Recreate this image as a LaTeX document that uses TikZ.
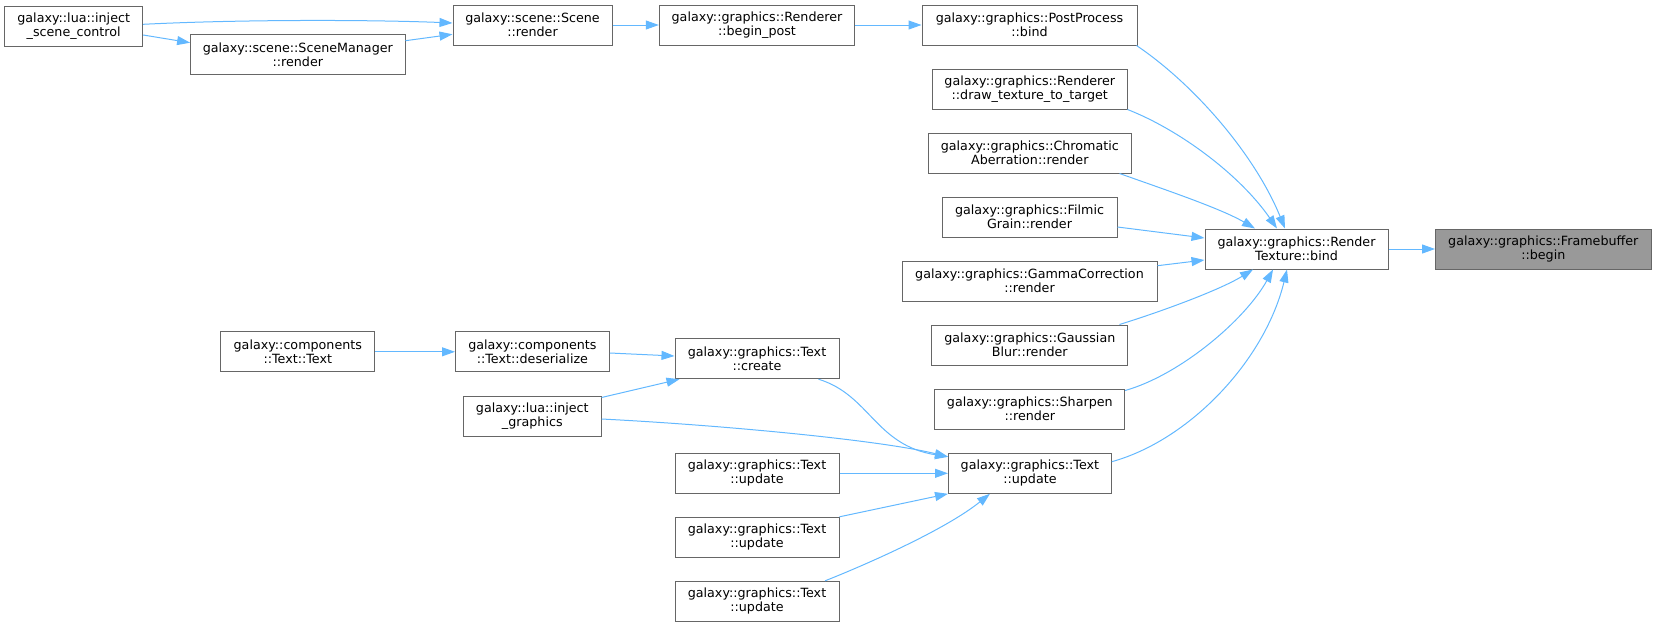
\documentclass[tikz,border=0pt]{standalone}
\usepackage{fontspec}
\setmainfont{DejaVu Sans}
\usetikzlibrary{arrows.meta}
\definecolor{edgeblue}{HTML}{63B8FF}
\definecolor{boxgray}{HTML}{666666}
\definecolor{fillgray}{HTML}{999999}
\begin{document}
\begin{tikzpicture}[x=1pt,y=-1pt,
  fn/.style={draw=boxgray, line width=1pt, fill=white, align=center, inner sep=0pt,
    minimum height=40pt, font=\fontsize{12.7}{14}\selectfont},
  cur/.style={fn, fill=fillgray},
  call/.style={draw=edgeblue, line width=1pt, -{Triangle[length=13pt,width=9pt]}}]
\useasboundingbox (0,0) rectangle (1656,627);

% nodes
\node[fn, minimum width=138pt]   (isc) at (73.7,26.3)  {galaxy::lua::inject\\\_scene\_control};
\node[fn, minimum width=214.4pt] (smr) at (297.8,54.5) {galaxy::scene::SceneManager\\::render};
\node[fn, minimum width=159pt]   (scn) at (532.5,25)   {galaxy::scene::Scene\\::render};
\node[fn, minimum width=195.4pt] (bp)  at (757,25)     {galaxy::graphics::Renderer\\::begin\_post};
\node[fn, minimum width=215pt]   (pp)  at (1029.5,25)  {galaxy::graphics::PostProcess\\::bind};
\node[fn, minimum width=194.4pt] (dt)  at (1029.8,89)  {galaxy::graphics::Renderer\\::draw\_texture\_to\_target};
\node[fn, minimum width=202.5pt] (ca)  at (1029.8,153) {galaxy::graphics::Chromatic\\Aberration::render};
\node[fn, minimum width=175pt]   (fg)  at (1029.5,217) {galaxy::graphics::Filmic\\Grain::render};
\node[fn, minimum width=255pt]   (gc)  at (1029.5,281) {galaxy::graphics::GammaCorrection\\::render};
\node[fn, minimum width=196.3pt] (gb)  at (1029.8,345) {galaxy::graphics::Gaussian\\Blur::render};
\node[fn, minimum width=189.7pt] (sh)  at (1029.8,409) {galaxy::graphics::Sharpen\\::render};
\node[fn, minimum width=162.8pt] (upm) at (1029.9,473.3) {galaxy::graphics::Text\\::update};
\node[fn, minimum width=183pt]   (rt)  at (1296.5,249) {galaxy::graphics::Render\\Texture::bind};
\node[cur, minimum width=215.5pt] (fb) at (1543.3,249) {galaxy::graphics::Framebuffer\\::begin};
\node[fn, minimum width=154.3pt] (ttx) at (297.8,351.8) {galaxy::components\\::Text::Text};
\node[fn, minimum width=153.8pt] (des) at (532.4,351.8) {galaxy::components\\::Text::deserialize};
\node[fn, minimum width=137.5pt] (igr) at (532.3,416)   {galaxy::lua::inject\\\_graphics};
\node[fn, minimum width=164pt]   (cre) at (757,358.7)   {galaxy::graphics::Text\\::create};
\node[fn, minimum width=164pt]   (up1) at (757,473.3)   {galaxy::graphics::Text\\::update};
\node[fn, minimum width=164pt]   (up2) at (757,537.3)   {galaxy::graphics::Text\\::update};
\node[fn, minimum width=164pt]   (up3) at (757,601.3)   {galaxy::graphics::Text\\::update};

% edges
\draw[call] ([yshift=2pt]isc.east) .. controls (250,19) and (380,20) .. ([yshift=2pt]scn.west);
\draw[call] ([yshift=-8.7pt]isc.east) -- ([yshift=11.8pt]smr.west);
\draw[call] ([yshift=13.8pt]smr.east) -- ([yshift=-9.3pt]scn.west);
\draw[call] (scn) -- (bp);
\draw[call] (bp) -- (pp);
\draw[call] ([xshift=-1pt]pp.south east) .. controls (1195,85) and (1255,155) .. ([xshift=-11.5pt]rt.north);
\draw[call] (dt.south east) .. controls (1180,130) and (1240,175) .. ([xshift=-19.5pt]rt.north);
\draw[call] ([xshift=-12pt]ca.south east) .. controls (1160,188) and (1220,208) .. ([xshift=-41.5pt]rt.north);
\draw[call] ([yshift=-10pt]fg.east) -- ([yshift=11pt]rt.west);
\draw[call] ([yshift=15.3pt]gc.east) -- ([yshift=-11pt]rt.west);
\draw[call] ([xshift=-9pt]gb.north east) .. controls (1160,312) and (1220,290) .. ([xshift=-43.5pt]rt.south);
\draw[call] ([yshift=-2pt]sh.north east) .. controls (1180,375) and (1245,320) .. ([xshift=-23.5pt]rt.south);
\draw[call] ([yshift=11.6pt]upm.east) .. controls (1190,440) and (1265,360) .. ([xshift=-9.5pt]rt.south);
\draw[call] (rt) -- (fb);
\draw[call] (ttx) -- (des);
\draw[call] ([yshift=-1.2pt]des.east) -- ([yshift=2.7pt]cre.west);
\draw[call] ([yshift=-2pt]igr.north east) -- ([xshift=5pt]cre.south west);
\draw[call] ([xshift=-21pt]cre.south east) .. controls (870,395) and (875,445) .. ([yshift=-4pt]upm.north west);
\draw[call] ([yshift=-3pt]igr.east) .. controls (720,425) and (880,440) .. ([yshift=-4pt]upm.north west);
\draw[call] (up1) -- (upm);
\draw[call] (up2.north east) -- (upm.south west);
\draw[call] ([xshift=-14.4pt]up3.north east) .. controls (865,565) and (945,530) .. ([xshift=-40pt]upm.south);
\end{tikzpicture}
\end{document}
